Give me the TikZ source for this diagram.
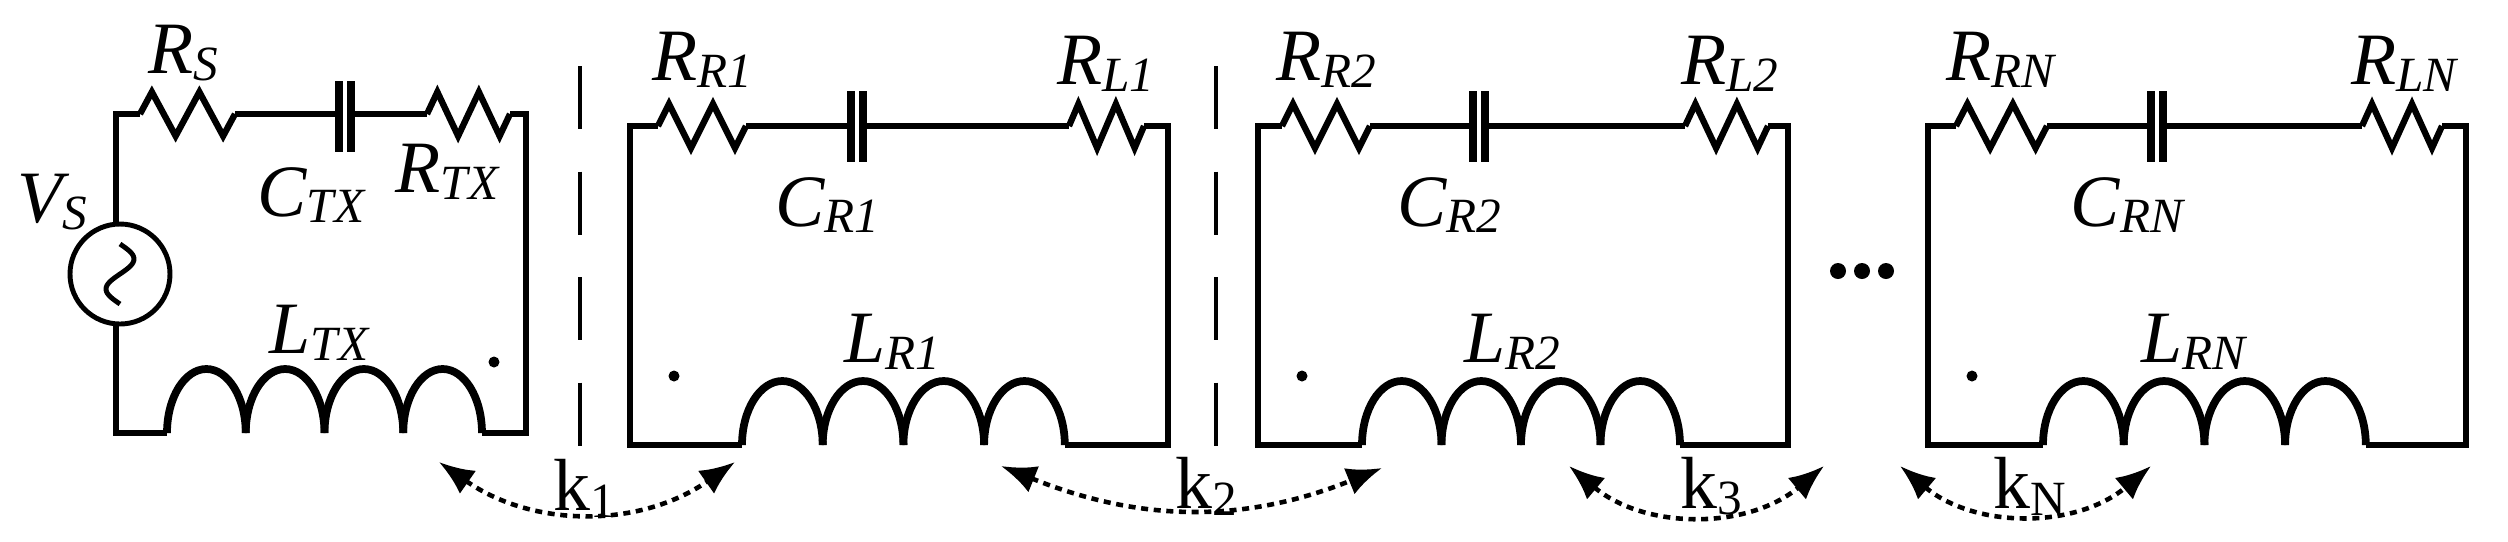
\documentclass[tikz,border=0pt]{standalone}
\usepackage{fontspec}
\setmainfont{Liberation Serif}
\usepackage{tikz}
\usetikzlibrary{arrows.meta, positioning}

\tikzset{
    wire/.style={line width=1.8pt, line join=miter},
    coil/.style={line width=2.2pt},
    lbl/.style={font=\fontsize{21}{21}\selectfont\itshape, inner sep=0pt},
    klbl/.style={font=\fontsize{21}{21}\selectfont, inner sep=0pt},
    sep/.style={line width=1pt, dash pattern=on 18pt off 12pt},
    couple/.style={line width=1.3pt, dash pattern=on 2pt off 1.6pt,
        {Latex[length=10pt,width=8pt]}-{Latex[length=10pt,width=8pt]}},
}
\newcommand{\sbs}[1]{\raisebox{-0.2ex}{\fontsize{14}{14}\selectfont #1}}
\newcommand{\zig}[3]{%
    \pgfmathsetmacro{\zl}{(#2-#1)/8}
    \draw[wire] (#1,#3) -- ++(\zl,-22) -- ++(2*\zl,44) -- ++(2*\zl,-44) -- ++(2*\zl,44) -- ++(\zl,-22);}
\newcommand{\capac}[3]{% x, y1, y2
    \draw[line width=2.4pt] (#1-6,#2) -- (#1-6,#3) (#1+6,#2) -- (#1+6,#3);}
\newcommand{\coil}[4]{%
    \pgfmathsetmacro{\cw}{(#2-#1)/8}
    \foreach \i in {0,...,3}
        \draw[coil] (#1+\i*2*\cw,#3) arc[start angle=180, end angle=360, x radius=\cw, y radius=#4];}

\begin{document}
\begin{tikzpicture}[x=0.01cm, y=-0.01cm]
    \useasboundingbox (0,0) rectangle (2508,541);

    % transmitter loop
    \draw[wire] (116,224) -- (116,114) -- (140,114);
    \draw[wire] (116,324) -- (116,433) -- (167,433);
    \zig{140}{235}{114}
    \draw[wire] (235,114) -- (339,114) (351,114) -- (427,114);
    \capac{345}{81}{152}
    \zig{427}{510}{114}
    \draw[wire] (510,114) -- (526,114) -- (526,433) -- (482,433);
    \coil{167}{482}{433}{64}
    \draw[line width=1.4pt] (120,274) circle[radius=50];
    \draw[line width=1.4pt, domain=-30:30, samples=40, variable=\t] plot ({120-14*sin(6*\t)},{274+\t});
    \fill (494,362) circle[radius=5.5];
    \node[lbl] (vs) at (52,202) {V\sbs{S}};
    \node[lbl] (rs) at (183,53) {R\sbs{S}};
    \node[lbl] (ctx) at (311,195) {C\sbs{TX}};
    \node[lbl] (rtx) at (447,172) {R\sbs{TX}};
    \node[lbl] (ltx) at (319,333) {L\sbs{TX}};

    % separators
    \draw[sep] (580,66) -- (580,470);
    \draw[sep] (1216,66) -- (1216,470);

    % receiver loops
    \foreach \xl/\xa/\xb/\xc/\xd/\xe/\xf/\xr/\n in {
        630/658/746/857/1069/1144/742/1168/1,
        1258/1282/1370/1479/1685/1768/1362/1788/2,
        1928/1956/2047/2157/2362/2442/2043/2466/N} {
        \draw[wire] (\xf,445) -- (\xl,445) -- (\xl,126) -- (\xa,126);
        \zig{\xa}{\xb}{126}
        \draw[wire] (\xb,126) -- (\xc-6,126) (\xc+6,126) -- (\xd,126);
        \capac{\xc}{91}{162}
        \zig{\xd}{\xe}{126}
        \pgfmathsetmacro{\xg}{\xf+(\xr-\xl)*0.6}
        \draw[wire] (\xe,126) -- (\xr,126) -- (\xr,445) -- (\xg,445);
        \coil{\xf}{\xg}{445}{64}
        \fill (\xl+44,376) circle[radius=5.5];
        \node[lbl] at (\xa+44,60) {R\sbs{R\n}};
        \node[lbl] at (\xe-38,64) {R\sbs{L\n}};
        \node[lbl] at (\xc-30,205) {C\sbs{R\n}};
        \node[lbl] at (\xf+150,342) {L\sbs{R\n}};
    }

    % dots between loops
    \foreach \x in {1838,1862,1886}
        \fill (\x,271) circle[radius=8];

    % coupling arrows
    \coordinate (a1) at (439,462);  \coordinate (b1) at (735,462);
    \coordinate (a2) at (1001,466); \coordinate (b2) at (1382,468);
    \coordinate (a3) at (1569,466); \coordinate (b3) at (1824,466);
    \coordinate (a4) at (1900,466); \coordinate (b4) at (2151,466);
    \draw[couple] (a1) to[out=-35, in=-145] (b1);
    \draw[couple] (a2) to[out=-22, in=-158] (b2);
    \draw[couple] (a3) to[out=-40, in=-140] (b3);
    \draw[couple] (a4) to[out=-40, in=-140] (b4);
    \node[klbl] (k1) at (584,488) {k\sbs{1}};
    \node[klbl] (k2) at (1206,486) {k\sbs{2}};
    \node[klbl] (k3) at (1711,486) {k\sbs{3}};
    \node[klbl] (kn) at (2030,486) {k\sbs{N}};
\end{tikzpicture}
\end{document}
